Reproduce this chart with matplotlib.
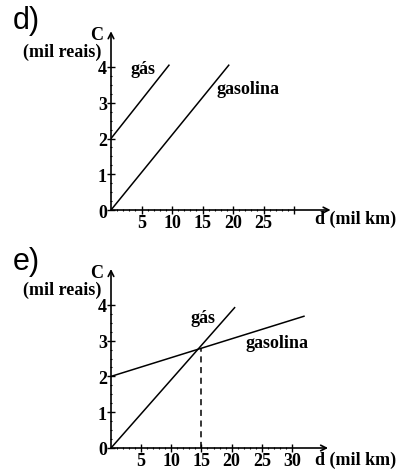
import matplotlib
matplotlib.use("Agg")
import matplotlib.pyplot as plt

# panel d) data (read from picture)
d_gas_x = [0, 9.5]
d_gas_y = [2, 4.05]
d_gasolina_x = [0, 19.3]
d_gasolina_y = [0, 4.05]
d_xticks = [5, 10, 15, 20, 25, 30]
d_xlabels = ["5", "10", "15", "20", "25", ""]

# panel e) data
e_gas_x = [0, 20.5]
e_gas_y = [0, 3.92]
e_gasolina_x = [0, 32]
e_gasolina_y = [2, 3.68]
e_cross_x = [15, 15]
e_cross_y = [0, 2.78]
e_xticks = [5, 10, 15, 20, 25, 30]
e_xlabels = ["5", "10", "15", "20", "25", "30"]

yticks = [0, 1, 2, 3, 4]
ylabels = ["0", "1", "2", "3", "4"]

W, H = 405, 477
serif = dict(family="Liberation Serif", weight="bold", fontsize=13)

fig = plt.figure(figsize=(W / 100, H / 100), dpi=100)
fig.patch.set_facecolor("white")


def setup(ax, xticks, xlabels):
    ax.set_xlim(0, 36)
    ax.set_ylim(0, 5)
    for s in ax.spines.values():
        s.set_visible(False)
    ax.patch.set_alpha(0)
    ax.set_xticks(xticks)
    ax.set_xticklabels(xlabels, **serif)
    ax.set_yticks(yticks)
    ax.set_yticklabels(ylabels, **serif)
    ax.set_xticks(range(1, 31), minor=True)
    ax.set_yticks([i * 0.25 for i in range(1, 17)], minor=True)
    ax.tick_params(which="major", direction="inout", length=6, width=1, pad=0)
    ax.tick_params(which="minor", direction="inout", length=2, width=0.8)
    # axes with arrow heads
    ax.annotate("", xy=(36, 0), xytext=(0, 0),
                arrowprops=dict(arrowstyle="->", lw=1.2, color="black", shrinkA=0, shrinkB=0),
                annotation_clip=False)
    ax.annotate("", xy=(0, 5), xytext=(0, 0),
                arrowprops=dict(arrowstyle="->", lw=1.2, color="black", shrinkA=0, shrinkB=0),
                annotation_clip=False)


# ---- d)
ax_d = fig.add_axes([111 / W, (H - 211) / H, 36 * 6.1 / W, 5 * 35.75 / H])
setup(ax_d, d_xticks, d_xlabels)
ax_d.plot(d_gas_x, d_gas_y, color="black", lw=1.1)
ax_d.plot(d_gasolina_x, d_gasolina_y, color="black", lw=1.1)
ax_d.text(5.3, 3.95, "gás", ha="center", va="center", **serif)
ax_d.text(22.5, 3.4, "gasolina", ha="center", va="center", **serif)

# ---- e)
ax_e = fig.add_axes([111 / W, (H - 449) / H, 36 * 6.03 / W, 5 * 35.8 / H])
setup(ax_e, e_xticks, e_xlabels)
ax_e.plot(e_gas_x, e_gas_y, color="black", lw=1.1)
ax_e.plot(e_gasolina_x, e_gasolina_y, color="black", lw=1.1)
ax_e.plot(e_cross_x, e_cross_y, color="black", lw=1.1, ls=(0, (4, 3)))
ax_e.text(15.3, 3.65, "gás", ha="center", va="center", **serif)
ax_e.text(27.6, 2.95, "gasolina", ha="center", va="center", **serif)

# axis titles and panel letters (figure pixel coords)
for top in (0, 238):
    fig.text(97 / W, 1 - (top + 35) / H, "C", ha="center", va="center", **serif)
    fig.text(62 / W, 1 - (top + 52) / H, "(mil reais)", ha="center", va="center", **serif)
fig.text(315 / W, 1 - 219 / H, "d (mil km)", ha="left", va="center", **serif)
fig.text(315 / W, 1 - 460 / H, "d (mil km)", ha="left", va="center", **serif)
fig.text(13 / W, 1 - 21 / H, "d)", ha="left", va="center", family="Liberation Sans", fontsize=22)
fig.text(13 / W, 1 - 262 / H, "e)", ha="left", va="center", family="Liberation Sans", fontsize=22)

fig.savefig("out.png", dpi=100, facecolor="white")
